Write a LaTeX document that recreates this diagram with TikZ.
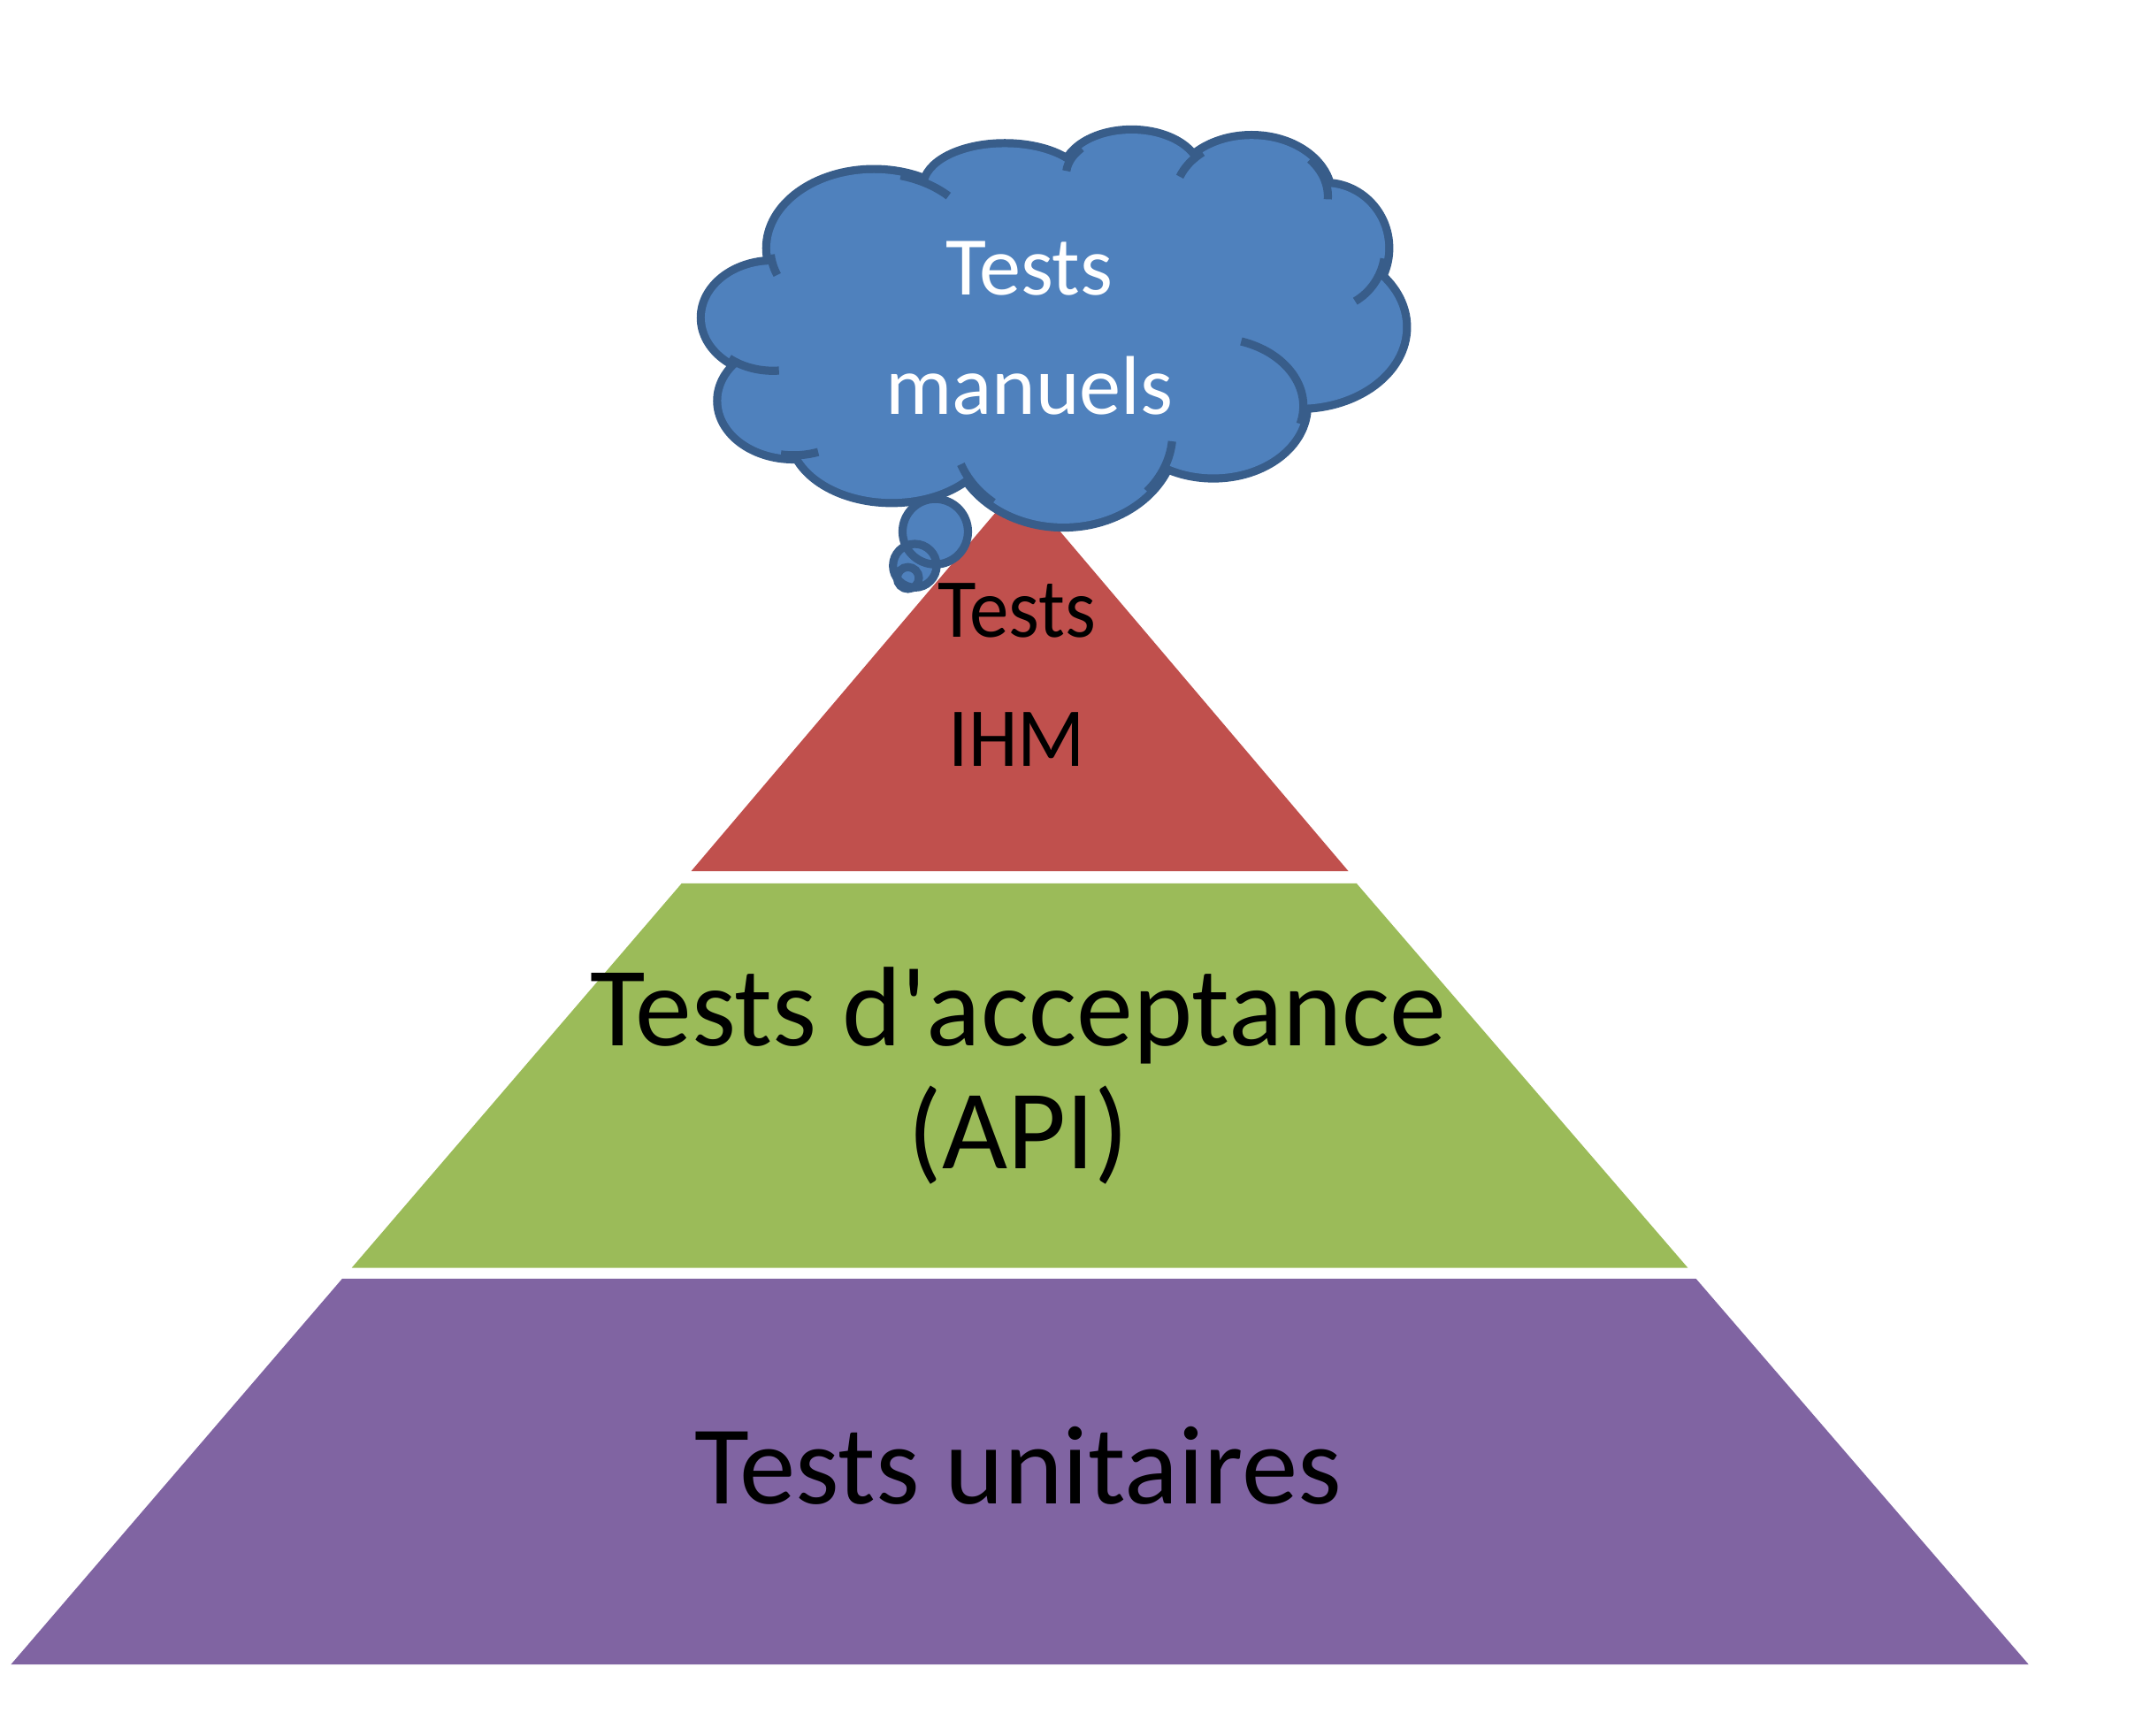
\documentclass[tikz,border=0pt]{standalone}
\usepackage{fontspec}
\setmainfont{Carlito}[Ligatures=TeXOff]
\newfontfamily\narrowcarlito{Carlito}[FakeStretch=0.94,Ligatures=TeXOff]

\definecolor{unitpurple}{HTML}{8064A2}
\definecolor{apigreen}{HTML}{9BBB59}
\definecolor{ihmred}{HTML}{C0504D}
\definecolor{cloudblue}{HTML}{4F81BD}
\definecolor{cloudedge}{HTML}{385D8A}

\tikzset{
	layer/.style={fill=#1, draw=none},
	edgeline/.style={draw=cloudedge, line width=1.7pt},
	tiertext/.style={anchor=base, align=center, inner sep=0pt},
}

% lobes of the cloud, one ellipse each (the last three only fill the middle)
\newcommand\cloudlobes{
	(641,182) ellipse [x radius=76, y radius=55]
	(737,137) ellipse [x radius=57, y radius=29]
	(830,128) ellipse [x radius=48, y radius=30]
	(918,144) ellipse [x radius=56, y radius=42]
	(972,182) ellipse [x radius=44, y radius=45]
	(953,240) ellipse [x radius=76, y radius=57]
	(890,298) ellipse [x radius=66, y radius=50]
	(780,318) ellipse [x radius=80, y radius=66]
	(654,318) ellipse [x radius=72, y radius=48]
	(582,294) ellipse [x radius=53, y radius=40]
	(567,233) ellipse [x radius=50, y radius=39]
	(767,242) ellipse [x radius=192, y radius=101]
	(908,212) ellipse [x radius=60, y radius=40]
	(860,165) ellipse [x radius=40, y radius=25]
}

\begin{document}
\begin{tikzpicture}[x=0.01cm, y=-0.01cm]
		\useasboundingbox (0,0) rectangle (1566,1273.4);

		% pyramid
		\path[layer=unitpurple] (8,1221) -- (1488,1221) -- (1244,938) -- (251,938) -- cycle;
		\path[layer=apigreen] (258,930) -- (1238,930) -- (995,648) -- (500,648) -- cycle;
		\path[layer=ihmred] (507,639) -- (989,639) -- (748,355) -- cycle;

		% cloud
		\draw[cloudedge, line width=3.4pt] \cloudlobes;
		\fill[cloudblue] \cloudlobes;
		\draw[edgeline] (641,182) ++({76*cos(175)},{55*sin(175)}) arc [start angle=175, end angle=159, x radius=76, y radius=55];
		\draw[edgeline] (641,182) ++({76*cos(-75)},{55*sin(-75)}) arc [start angle=-75, end angle=-44, x radius=76, y radius=55];
		\draw[edgeline] (830,128) ++({48*cos(-140)},{30*sin(-140)}) arc [start angle=-140, end angle=-175, x radius=48, y radius=30];
		\draw[edgeline] (918,144) ++({56*cos(-130)},{42*sin(-130)}) arc [start angle=-130, end angle=-160, x radius=56, y radius=42];
		\draw[edgeline] (918,144) ++({56*cos(-40)},{42*sin(-40)}) arc [start angle=-40, end angle=3, x radius=56, y radius=42];
		\draw[edgeline] (972,182) ++({44*cos(10)},{45*sin(10)}) arc [start angle=10, end angle=60, x radius=44, y radius=45];
		\draw[edgeline] (890,298) ++({66*cos(15)},{50*sin(15)}) arc [start angle=15, end angle=-72, x radius=66, y radius=50];
		\draw[edgeline] (780,318) ++({80*cos(40)},{66*sin(40)}) arc [start angle=40, end angle=5, x radius=80, y radius=66];
		\draw[edgeline] (780,318) ++({80*cos(130)},{66*sin(130)}) arc [start angle=130, end angle=160, x radius=80, y radius=66];
		\draw[edgeline] (582,294) ++({53*cos(100)},{40*sin(100)}) arc [start angle=100, end angle=70, x radius=53, y radius=40];
		\draw[edgeline] (567,233) ++({50*cos(130)},{39*sin(130)}) arc [start angle=130, end angle=85, x radius=50, y radius=39];

		% thought bubbles
		\fill[cloudblue] (686,390) circle [radius=24] (671,415) circle [radius=16] (666,424) circle [radius=8];
		\draw[edgeline] (686,390) circle [radius=24] (671,415) circle [radius=16] (666,424) circle [radius=8];

		% labels (base = baseline of the last line)
		\node[tiertext, white, font=\fontsize{17.4}{24.9}\selectfont] (manuels) at (755,303.8) {Tests\\manuels};
		\node[tiertext, font=\narrowcarlito\fontsize{17.5}{26.9}\selectfont] (ihm) at (746,562.2) {Tests\\IHM};
		\node[tiertext, font=\fontsize{23.6}{25.6}\selectfont] (api) at (747,857) {Tests d'acceptance\\(API)};
		\node[tiertext, font=\fontsize{23.4}{28}\selectfont] (unitaires) at (747,1103) {Tests unitaires};
	\end{tikzpicture}
\end{document}
